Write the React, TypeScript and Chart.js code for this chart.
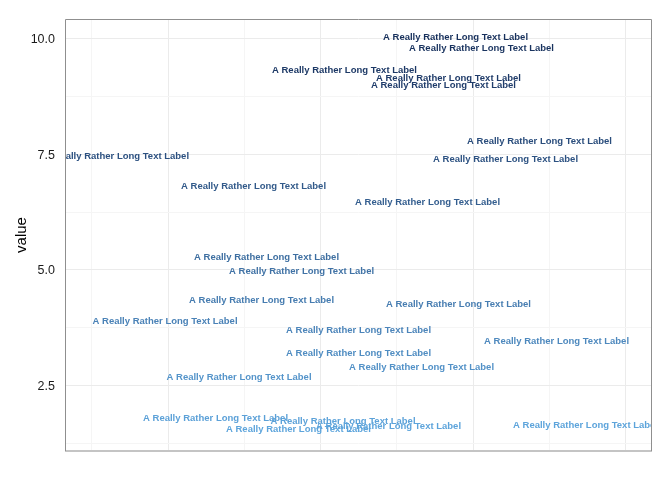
import React, { useEffect, useRef } from 'react';
import { Chart, registerables } from 'chart.js';

Chart.register(...registerables);

const labelText = 'A Really Rather Long Text Label';

const xValues = [
  0.7213, 0.7639, 0.5393, 0.7098, 0.7016, 0.859, 0.8033, 0.1656, 0.3902, 0.6754,
  0.4115, 0.4689, 0.4033, 0.7262, 0.2451, 0.5623, 0.8869, 0.5623, 0.6656, 0.3664,
  0.3279, 0.5369, 0.4639, 0.6115, 0.9344,
];
const yValues = [
  10.05, 9.81, 9.32, 9.15, 9.0, 7.8, 7.41, 7.48, 6.83, 6.49,
  5.3, 5.0, 4.37, 4.27, 3.91, 3.72, 3.48, 3.22, 2.91, 2.7,
  1.81, 1.75, 1.57, 1.64, 1.66,
];

const yTicks = [1.25, 2.5, 3.75, 5, 6.25, 7.5, 8.75, 10];
const yMajor = [2.5, 5, 7.5, 10];
const xTicks = [0.125, 0.25, 0.375, 0.5, 0.625, 0.75, 0.875, 1.0];
const xMajor = [0.25, 0.5, 0.75, 1.0];

const lowColor = '#5ea5dc';
const highColor = '#17305c';

// --- Lab colour interpolation ---
function hexToRgb(h: string) {
  const n = parseInt(h.slice(1), 16);
  return [(n >> 16) & 255, (n >> 8) & 255, n & 255];
}
function srgbToLin(c: number) {
  c /= 255;
  return c <= 0.04045 ? c / 12.92 : Math.pow((c + 0.055) / 1.055, 2.4);
}
function linToSrgb(c: number) {
  const v = c <= 0.0031308 ? 12.92 * c : 1.055 * Math.pow(c, 1 / 2.4) - 0.055;
  return Math.max(0, Math.min(255, Math.round(v * 255)));
}
const Xn = 0.95047, Yn = 1.0, Zn = 1.08883;
function f(t: number) {
  return t > 216 / 24389 ? Math.cbrt(t) : (24389 / 27 * t + 16) / 116;
}
function finv(t: number) {
  return t * t * t > 216 / 24389 ? t * t * t : (116 * t - 16) / (24389 / 27);
}
function rgbToLab(rgb: number[]) {
  const [r, g, b] = rgb.map(srgbToLin);
  const X = 0.4124 * r + 0.3576 * g + 0.1805 * b;
  const Y = 0.2126 * r + 0.7152 * g + 0.0722 * b;
  const Z = 0.0193 * r + 0.1192 * g + 0.9505 * b;
  const fx = f(X / Xn), fy = f(Y / Yn), fz = f(Z / Zn);
  return [116 * fy - 16, 500 * (fx - fy), 200 * (fy - fz)];
}
function labToRgb(lab: number[]) {
  const [L, a, bb] = lab;
  const fy = (L + 16) / 116;
  const fx = fy + a / 500;
  const fz = fy - bb / 200;
  const X = finv(fx) * Xn, Y = finv(fy) * Yn, Z = finv(fz) * Zn;
  const r = 3.2406 * X - 1.5372 * Y - 0.4986 * Z;
  const g = -0.9689 * X + 1.8758 * Y + 0.0415 * Z;
  const b = 0.0557 * X - 0.204 * Y + 1.057 * Z;
  return [linToSrgb(r), linToSrgb(g), linToSrgb(b)];
}
const labLow = rgbToLab(hexToRgb(lowColor));
const labHigh = rgbToLab(hexToRgb(highColor));
function colorFor(t: number) {
  const lab = labLow.map((v, i) => v + (labHigh[i] - v) * t);
  const [r, g, b] = labToRgb(lab);
  return `rgb(${r},${g},${b})`;
}

const textPlugin = {
  id: 'textLabels',
  afterDatasetsDraw(chart: any) {
    const { ctx, chartArea, scales } = chart;
    const ymin = Math.min(...yValues);
    const ymax = Math.max(...yValues);
    ctx.save();
    ctx.beginPath();
    ctx.rect(chartArea.left, chartArea.top, chartArea.right - chartArea.left, chartArea.bottom - chartArea.top);
    ctx.clip();
    ctx.font = 'bold 9.5px "Liberation Sans", Arial, sans-serif';
    ctx.textAlign = 'center';
    ctx.textBaseline = 'middle';
    xValues.forEach((xv, i) => {
      const yv = yValues[i];
      const px = scales.x.getPixelForValue(xv);
      const py = scales.y.getPixelForValue(yv) + 1;
      ctx.fillStyle = colorFor((yv - ymin) / (ymax - ymin));
      ctx.fillText(labelText, px, py);
    });
    ctx.restore();

    // panel border
    const { left, right, top, bottom } = chartArea;
    ctx.save();
    ctx.strokeStyle = '#c4c4c4';
    ctx.lineWidth = 2;
    ctx.beginPath();
    ctx.moveTo(left, bottom);
    ctx.lineTo(right, bottom);
    ctx.stroke();
    ctx.strokeStyle = '#8f8f8f';
    ctx.lineWidth = 1;
    ctx.beginPath();
    ctx.moveTo(left + 0.5, bottom);
    ctx.lineTo(left + 0.5, top + 0.5);
    ctx.lineTo(right - 0.5, top + 0.5);
    ctx.lineTo(right - 0.5, bottom);
    ctx.stroke();
    ctx.restore();
  },
};

export default function App() {
  const ref = useRef<HTMLCanvasElement>(null);
  useEffect(() => {
    if (!ref.current) return;
    const chart = new Chart(ref.current, {
      type: 'scatter',
      data: {
        datasets: [
          {
            data: xValues.map((x, i) => ({ x, y: yValues[i] })),
            pointRadius: 0,
            pointHoverRadius: 0,
          },
        ],
      },
      options: {
        animation: false,
        responsive: false,
        events: [],
        layout: { padding: { left: 0, top: 19, right: 20, bottom: 29 } },
        plugins: {
          legend: { display: false },
          tooltip: { enabled: false },
        },
        scales: {
          x: {
            type: 'linear',
            min: 0.0811,
            max: 1.0434,
            afterBuildTicks: (s: any) => {
              s.ticks = xTicks.map((v) => ({ value: v }));
            },
            afterFit: (s: any) => {
              s.height = 0;
            },
            ticks: { display: false },
            border: { display: false },
            grid: {
              drawTicks: false,
              color: (c: any) => (xMajor.includes(c.tick?.value) ? '#ebebeb' : '#f5f5f5'),
              lineWidth: 1,
            },
          },
          y: {
            type: 'linear',
            min: 1.091,
            max: 10.417,
            afterBuildTicks: (s: any) => {
              s.ticks = yTicks.map((v) => ({ value: v }));
            },
            afterFit: (s: any) => {
              s.width = 65;
            },
            ticks: {
              padding: 10,
              labelOffset: 1,
              color: '#1a1a1a',
              font: { family: '"Liberation Sans", Arial, sans-serif', size: 12.5 },
              callback: (v: any) => (yMajor.includes(Number(v)) ? Number(v).toFixed(1) : ''),
            },
            border: { display: false },
            grid: {
              drawTicks: false,
              color: (c: any) => (yMajor.includes(c.tick?.value) ? '#ebebeb' : '#f5f5f5'),
              lineWidth: 1,
            },
            title: {
              display: true,
              text: 'value',
              color: '#000000',
              font: { family: '"Liberation Sans", Arial, sans-serif', size: 15 },
              padding: { top: 13, bottom: 0 },
            },
          },
        },
      },
      plugins: [textPlugin],
    });
    return () => chart.destroy();
  }, []);
  return (
    <div style={{ position: 'absolute', left: 0, top: 0, width: 672, height: 480, background: '#fff' }}>
      <canvas ref={ref} width={672} height={480} />
    </div>
  );
}
